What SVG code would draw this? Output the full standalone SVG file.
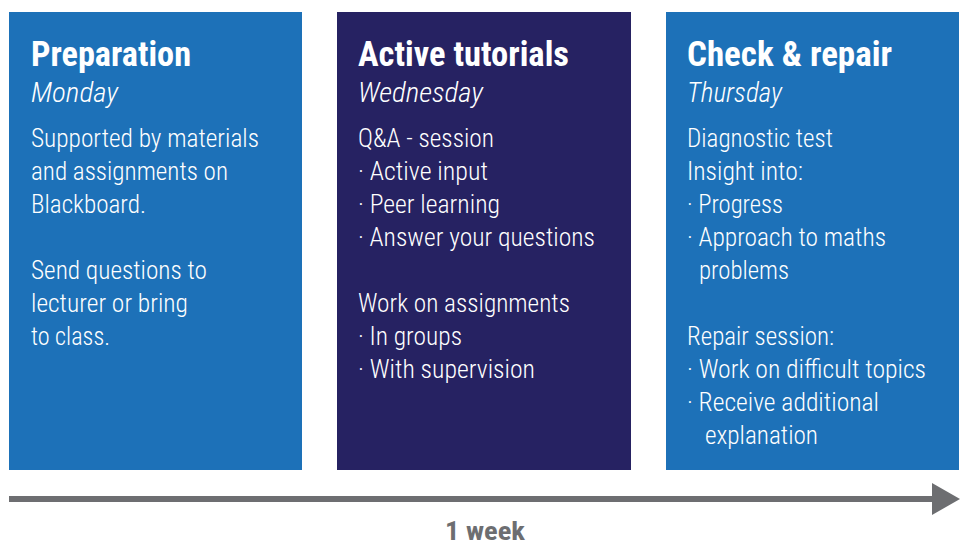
<svg xmlns="http://www.w3.org/2000/svg" width="968" height="546" viewBox="0 0 968 546">
<style>
.blue{fill:#1d71b8}
.navy{fill:#262262}
text{font-family:"Roboto Condensed","Liberation Sans Narrow",Roboto,"Liberation Sans",sans-serif;fill:#ffffff}
.t{font-size:35px;font-weight:700}
.d{font-size:27px;font-style:italic;font-weight:300}
.b{font-size:26px;font-weight:300}
.w{font-size:26px;font-weight:700;fill:#6d6e71}
</style>
<rect width="968" height="546" fill="#ffffff"/>
<g id="preparation">
<rect class="blue" x="9" y="12" width="293" height="458"/>
<text class="t" x="31" y="66" textLength="160" lengthAdjust="spacingAndGlyphs">Preparation</text>
<text class="d" x="31" y="102" textLength="87" lengthAdjust="spacingAndGlyphs">Monday</text>
<text class="b" x="31" y="147" textLength="228" lengthAdjust="spacingAndGlyphs">Supported by materials</text>
<text class="b" x="31" y="180" textLength="197" lengthAdjust="spacingAndGlyphs">and assignments on</text>
<text class="b" x="31" y="213" textLength="115" lengthAdjust="spacingAndGlyphs">Blackboard.</text>
<text class="b" x="31" y="279" textLength="176" lengthAdjust="spacingAndGlyphs">Send questions to</text>
<text class="b" x="31" y="312" textLength="157" lengthAdjust="spacingAndGlyphs">lecturer or bring</text>
<text class="b" x="31" y="345" textLength="79" lengthAdjust="spacingAndGlyphs">to class.</text>
</g>
<g id="active-tutorials">
<rect class="navy" x="337" y="12" width="294" height="458"/>
<text class="t" x="358" y="66" textLength="211" lengthAdjust="spacingAndGlyphs">Active tutorials</text>
<text class="d" x="358" y="102" textLength="125" lengthAdjust="spacingAndGlyphs">Wednesday</text>
<text class="b" x="358" y="147" textLength="136" lengthAdjust="spacingAndGlyphs">Q&amp;A - session</text>
<text class="b" x="358" y="180" textLength="130" lengthAdjust="spacingAndGlyphs">· Active input</text>
<text class="b" x="358" y="213" textLength="142" lengthAdjust="spacingAndGlyphs">· Peer learning</text>
<text class="b" x="358" y="246" textLength="237" lengthAdjust="spacingAndGlyphs">· Answer your questions</text>
<text class="b" x="358" y="312" textLength="212" lengthAdjust="spacingAndGlyphs">Work on assignments</text>
<text class="b" x="358" y="345" textLength="104" lengthAdjust="spacingAndGlyphs">· In groups</text>
<text class="b" x="358" y="378" textLength="177" lengthAdjust="spacingAndGlyphs">· With supervision</text>
</g>
<g id="check-repair">
<rect class="blue" x="666" y="12" width="293" height="458"/>
<text class="t" x="687" y="66" textLength="205" lengthAdjust="spacingAndGlyphs">Check &amp; repair</text>
<text class="d" x="687" y="102" textLength="95" lengthAdjust="spacingAndGlyphs">Thursday</text>
<text class="b" x="687" y="147" textLength="146" lengthAdjust="spacingAndGlyphs">Diagnostic test</text>
<text class="b" x="687" y="180" textLength="116" lengthAdjust="spacingAndGlyphs">Insight into:</text>
<text class="b" x="687" y="213" textLength="96" lengthAdjust="spacingAndGlyphs">· Progress</text>
<text class="b" x="687" y="246" textLength="199" lengthAdjust="spacingAndGlyphs">· Approach to maths</text>
<text class="b" x="699" y="279" textLength="90" lengthAdjust="spacingAndGlyphs">problems</text>
<text class="b" x="687" y="345" textLength="147" lengthAdjust="spacingAndGlyphs">Repair session:</text>
<text class="b" x="687" y="378" textLength="239" lengthAdjust="spacingAndGlyphs">· Work on difficult topics</text>
<text class="b" x="687" y="411" textLength="192" lengthAdjust="spacingAndGlyphs">· Receive additional</text>
<text class="b" x="705" y="444" textLength="113" lengthAdjust="spacingAndGlyphs">explanation</text>
</g>
<g id="connectors">
<rect x="9" y="496" width="926" height="6" fill="#6d6e71"/>
<polygon points="932,483 960,499 932,515" fill="#6d6e71"/>
</g>
<g id="timeline-label">
<text class="w" x="445" y="540" textLength="80" lengthAdjust="spacingAndGlyphs">1 week</text>
</g>
</svg>
